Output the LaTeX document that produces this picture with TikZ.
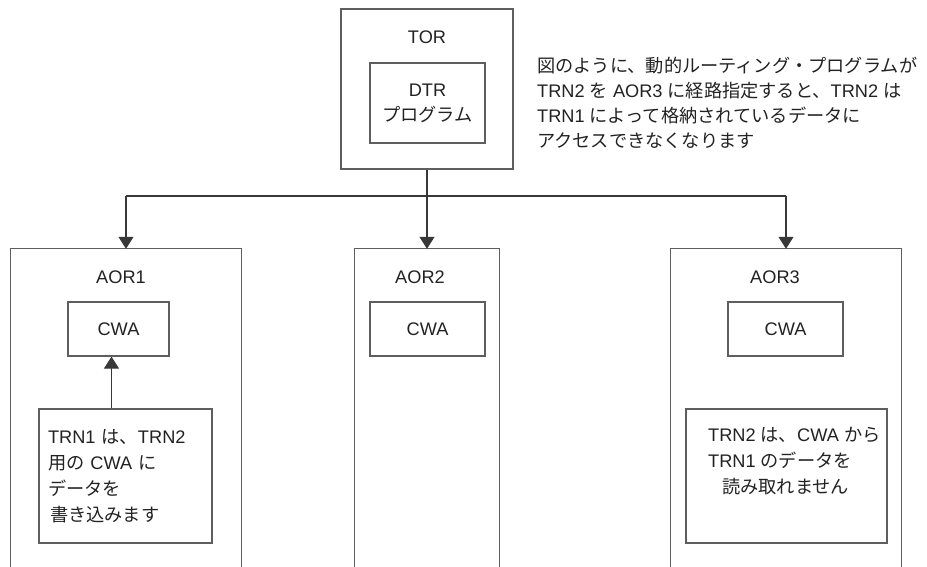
\documentclass[tikz,border=0pt]{standalone}
\usepackage{fontspec}
\setmainfont{Liberation Sans}
\newfontfamily\jp{Noto Sans CJK JP}
\usetikzlibrary{arrows.meta}

\definecolor{boxgray}{HTML}{5E5E5E}
\definecolor{ink}{HTML}{222222}
\newcommand{\ja}[1]{{\jp #1}}

\tikzset{
  box/.style={draw=boxgray, line width=1.2pt, inner sep=0pt},
  region/.style={inner sep=0pt, minimum height=318pt},
  txt/.style={text=ink, font=\fontsize{18.2}{26}\selectfont, align=left, inner sep=0pt},
  arr/.style={draw=ink!90, line width=1.2pt, -{Triangle[width=15pt,length=12pt]}},
  wire/.style={draw=ink!90, line width=1.2pt}
}

\begin{document}
\begin{tikzpicture}[x=1pt, y=-1pt]
  \useasboundingbox (0,0) rectangle (927,567);

  % TOR with the routing program
  \node[box, minimum width=172pt, minimum height=160pt] (tor) at (427,89) {};
  \node[txt] (torlbl) at (427,37) {TOR};
  \node[box, txt, align=center, minimum width=115pt, minimum height=80pt] (dtr) at (427.5,103) {DTR\\[-1pt]\ja{プログラム}};

  \node[txt, anchor=west, font=\fontsize{18.2}{25}\selectfont] (note) at (537,102.5)
    {\ja{図のように、動的ルーティング・プログラムが}\\
     TRN2 \ja{を} AOR3 \ja{に経路指定すると、}TRN2 \ja{は}\\
     TRN1 \ja{によって格納されているデータに}\\
     \ja{アクセスできなくなります}};

  % the three AORs, open at the bottom
  \node[region, minimum width=230pt] (aor1) at (126,408) {};
  \node[region, minimum width=144pt] (aor2) at (427,408) {};
  \node[region, minimum width=230pt] (aor3) at (786,408) {};
  \foreach \r in {aor1,aor2,aor3}
    \draw[box] (\r.south west) |- (\r.north east) -- (\r.south east);

  \node[txt] (lbl1) at (121,277) {AOR1};
  \node[txt] (lbl2) at (420,277) {AOR2};
  \node[txt] (lbl3) at (775,277) {AOR3};

  \node[box, txt, minimum width=101pt, minimum height=54pt] (cwa1) at (118.5,329) {CWA};
  \node[box, txt, minimum width=115pt, minimum height=54pt] (cwa2) at (427.5,329) {CWA};
  \node[box, txt, minimum width=115pt, minimum height=54pt] (cwa3) at (785.5,329) {CWA};

  \node[box, txt, minimum width=173pt, minimum height=134pt, text width=155pt] (trn1) at (125.5,476)
    {TRN1 \ja{は、}TRN2\\
     \ja{用の} CWA \ja{に}\\
     \ja{データを}\\
     \hspace*{2pt}\ja{書き込みます}};

  \node[box, minimum width=201pt, minimum height=134pt] (trn2) at (786.5,476) {};
  \node[txt, anchor=west] (trn2txt) at (708,461.5)
    {TRN2 \ja{は、}CWA \ja{から}\\
     TRN1 \ja{のデータを}\\
     \hspace*{14pt}\ja{読み取れません}};

  % routing from TOR
  \coordinate (bus) at (427,196);
  \draw[wire] (tor.south) -- (bus);
  \draw[wire] (aor1.north |- bus) -- (aor3.north |- bus);
  \foreach \r in {aor1,aor2,aor3}
    \draw[arr] (\r.north |- bus) -- (\r.north);

  \draw[arr] ([xshift=-7pt]trn1.north -| cwa1.south) -- ([xshift=-7pt]cwa1.south);
\end{tikzpicture}
\end{document}
